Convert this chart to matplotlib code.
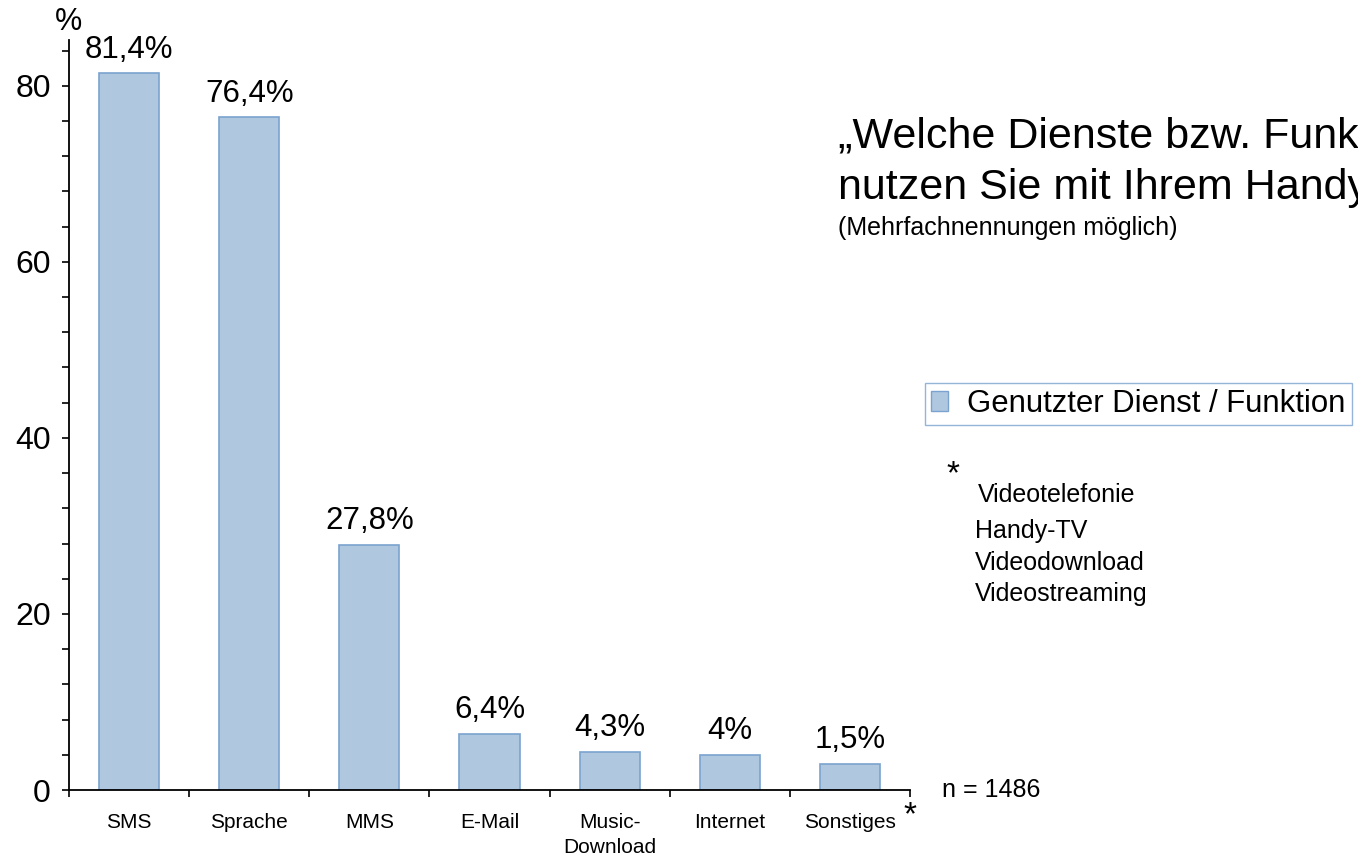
import matplotlib.pyplot as plt
from matplotlib.patches import Patch

plt.rcParams['font.family'] = ['Liberation Sans', 'DejaVu Sans']

categories = ['SMS', 'Sprache', 'MMS', 'E-Mail', 'Music-\nDownload', 'Internet', 'Sonstiges']
# bar heights as drawn (the Sonstiges bar is drawn at ~3 although labelled 1,5%)
bar_heights = [81.4, 76.4, 27.8, 6.4, 4.3, 4.0, 3.0]
value_labels = ['81,4%', '76,4%', '27,8%', '6,4%', '4,3%', '4%', '1,5%']
footnote_items = ['Videotelefonie', 'Handy-TV', 'Videodownload', 'Videostreaming']

bar_color = '#AFC8E0'
edge_color = '#7BA3CF'

W, H = 1358, 858
fig = plt.figure(figsize=(W/100, H/100), dpi=100)
fig.patch.set_facecolor('white')
ax = fig.add_axes([69/W, 1-790/H, (910-69)/W, (790-40)/H])

x = range(len(categories))
ax.bar(x, bar_heights, width=0.5, color=bar_color, edgecolor=edge_color, linewidth=1.2, zorder=2)
for i, (v, lab) in enumerate(zip(bar_heights, value_labels)):
    ax.text(i, v + 1.8, lab, ha='center', va='baseline', fontsize=22.5)

ax.set_xlim(-0.5, 6.5)
ax.set_ylim(0, 85.2)

ax.spines['top'].set_visible(False)
ax.spines['right'].set_visible(False)
for s in ['left', 'bottom']:
    ax.spines[s].set_linewidth(1.3)

ax.set_yticks([0, 20, 40, 60, 80])
ax.set_yticklabels(['0', '20', '40', '60', '80'], fontsize=23)
ax.set_yticks(range(0, 85, 4), minor=True)
ax.tick_params(axis='y', which='both', length=5, width=1.2, direction='out', pad=8)

# category ticks sit on the boundaries, labels centred under the bars
ax.set_xticks([i - 0.5 for i in range(len(categories) + 1)])
ax.set_xticklabels([''] * (len(categories) + 1))
ax.tick_params(axis='x', which='major', length=5, width=1.2, direction='out')
for i, c in enumerate(categories):
    ax.text(i, -2.6, c, ha='center', va='top', fontsize=15, linespacing=1.42)

ax.text(-0.5, 87.3, '%', ha='center', va='center', fontsize=22, clip_on=False)
ax.text(6.5, -1.2, '*', ha='center', va='top', fontsize=24, clip_on=False)

# title and notes (the title runs past the right edge, as in the source)
fig.text(838/W, 1-148/H, '„Welche Dienste bzw. Funktionen', ha='left', va='baseline', fontsize=31)
fig.text(838/W, 1-199/H, 'nutzen Sie mit Ihrem Handy?“', ha='left', va='baseline', fontsize=31)
fig.text(838/W, 1-235/H, '(Mehrfachnennungen möglich)', ha='left', va='baseline', fontsize=18)

leg = fig.legend(handles=[Patch(facecolor=bar_color, edgecolor=edge_color, label='Genutzter Dienst / Funktion')],
                 loc='upper left', bbox_to_anchor=(925/W, 1-383/H), fontsize=22.4,
                 frameon=True, fancybox=False, handlelength=0.55, handleheight=0.6,
                 handletextpad=0.6, borderpad=0.2, borderaxespad=0)
leg.get_frame().set_edgecolor(edge_color)
leg.get_frame().set_linewidth(1.0)

fig.text(953/W, 1-475/H, '*', ha='center', va='center', fontsize=24)
fig.text(978/W, 1-502/H, footnote_items[0], ha='left', va='baseline', fontsize=18)
for k, yb in enumerate([538, 570, 601]):
    fig.text(975/W, 1-yb/H, footnote_items[k + 1], ha='left', va='baseline', fontsize=18)

fig.text(942/W, 1-790/H, 'n = 1486', ha='left', va='center', fontsize=18)

plt.savefig('out.png', dpi=100, facecolor='white')
plt.close()
